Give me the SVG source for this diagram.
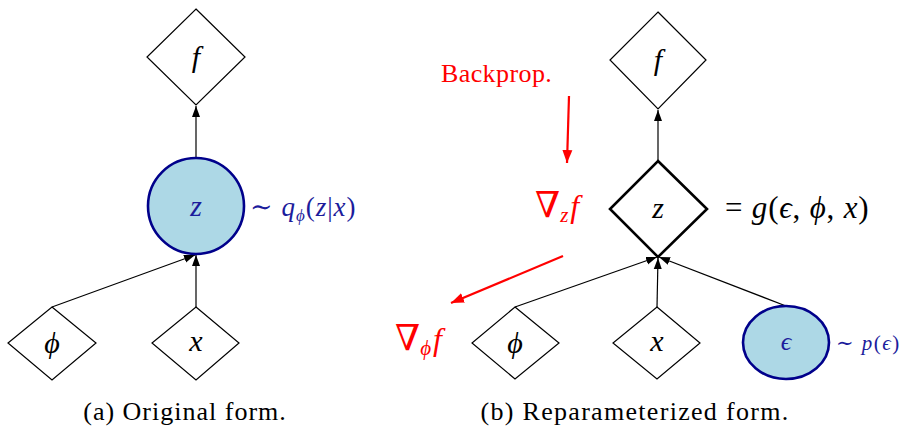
<svg xmlns="http://www.w3.org/2000/svg" width="905" height="427" viewBox="0 0 905 427">
<defs>
<style>
.nd{fill:#fff;stroke:#000;stroke-width:1.2}
.ndb{fill:#fff;stroke:#000;stroke-width:2.6}
.rv{fill:#add8e6;stroke:#00008b;stroke-width:2.6}
.m{font-style:italic;font-size:30px;text-anchor:middle}
.t{font-size:26px}
.blue{fill:#1c1c9c}
.red{fill:#ff0000}
.cn{stroke:#000;stroke-width:1.2;fill:none;marker-end:url(#ah)}
.rc{stroke:#ff0000;stroke-width:2.2;fill:none;marker-end:url(#rh)}
</style>
<marker id="ah" markerUnits="userSpaceOnUse" markerWidth="12" markerHeight="10" viewBox="0 0 12 10" refX="11" refY="5" orient="auto"><path d="M0,1 L11,5 L0,9 Z" fill="#000"/></marker>
<marker id="rh" markerUnits="userSpaceOnUse" markerWidth="14" markerHeight="12" viewBox="0 0 14 12" refX="13" refY="6" orient="auto"><path d="M0,1 L13,6 L0,11 Z" fill="#ff0000"/></marker>
</defs>
<g id="connectors">
<line class="cn" x1="196" y1="158" x2="196" y2="106"/>
<line class="cn" x1="52" y1="307" x2="195" y2="255"/>
<line class="cn" x1="196" y1="307" x2="196" y2="255"/>
<line class="cn" x1="658" y1="161" x2="658" y2="110"/>
<line class="cn" x1="515" y1="307" x2="657" y2="257"/>
<line class="cn" x1="657" y1="307" x2="658" y2="258"/>
<line class="cn" x1="786" y1="306" x2="659" y2="257"/>
<line class="rc" x1="569" y1="96" x2="567" y2="163"/>
<line class="rc" x1="563" y1="256" x2="451" y2="303"/>
</g>
<g font-family="'Liberation Serif', 'DejaVu Serif', serif">
<g id="a-f"><polygon class="nd" points="196,9 245,57 196,105 147,57"/><text class="m" x="196" y="67">f</text></g>
<g id="a-z"><circle class="rv" cx="196" cy="206" r="48"/><text class="m blue" x="196" y="216">z</text></g>
<g id="a-phi"><polygon class="nd" points="52,307 96,343 52,380 8,343"/><text class="m" x="52" y="353">ϕ</text></g>
<g id="a-x"><polygon class="nd" points="196,307 239,343 196,380 152,343"/><text class="m" x="196" y="351">x</text></g>
<text class="blue" x="250" y="216" font-size="27" letter-spacing="1">∼ <tspan font-style="italic">q</tspan><tspan font-style="italic" font-size="17" dy="5">ϕ</tspan><tspan dy="-5">(</tspan><tspan font-style="italic">z</tspan>|<tspan font-style="italic">x</tspan>)</text>
<text class="t" x="185" y="420" text-anchor="middle" letter-spacing="1">(a) Original form.</text>
<g id="b-f"><polygon class="nd" points="658,12 706,60 658,109 610,60"/><text class="m" x="658" y="70">f</text></g>
<g id="b-z"><polygon class="ndb" points="658,161 707,209 658,257 610,209"/><text class="m" x="658" y="218">z</text></g>
<g id="b-phi"><polygon class="nd" points="515,307 559,343 515,379 472,343"/><text class="m" x="515" y="353">ϕ</text></g>
<g id="b-x"><polygon class="nd" points="657,307 700,343 657,379 613,343"/><text class="m" x="657" y="351">x</text></g>
<g id="b-eps"><ellipse class="rv" cx="786" cy="342.5" rx="43" ry="36.5"/><text class="m blue" x="786" y="350" style="font-size:26px">ϵ</text></g>
<text x="725" y="218" font-size="31" letter-spacing="0.8">= <tspan font-style="italic">g</tspan>(<tspan font-style="italic">ϵ</tspan>, <tspan font-style="italic">ϕ</tspan>, <tspan font-style="italic">x</tspan>)</text>
<text class="blue" x="836" y="350" font-size="21" letter-spacing="1.5">∼ <tspan font-style="italic">p</tspan>(<tspan font-style="italic">ϵ</tspan>)</text>
<text class="t red" x="441" y="82" letter-spacing="0.4">Backprop.</text>
<text class="red" x="535" y="217" font-size="36">∇<tspan font-style="italic" font-size="21" dy="5">z</tspan><tspan font-style="italic" font-size="32" dy="-5" dx="2">f</tspan></text>
<text class="red" x="395" y="350" font-size="36">∇<tspan font-style="italic" font-size="21" dy="5">ϕ</tspan><tspan font-style="italic" font-size="32" dy="-5" dx="2">f</tspan></text>
<text class="t" x="635" y="420" text-anchor="middle" letter-spacing="1.3">(b) Reparameterized form.</text>
</g>
</svg>
